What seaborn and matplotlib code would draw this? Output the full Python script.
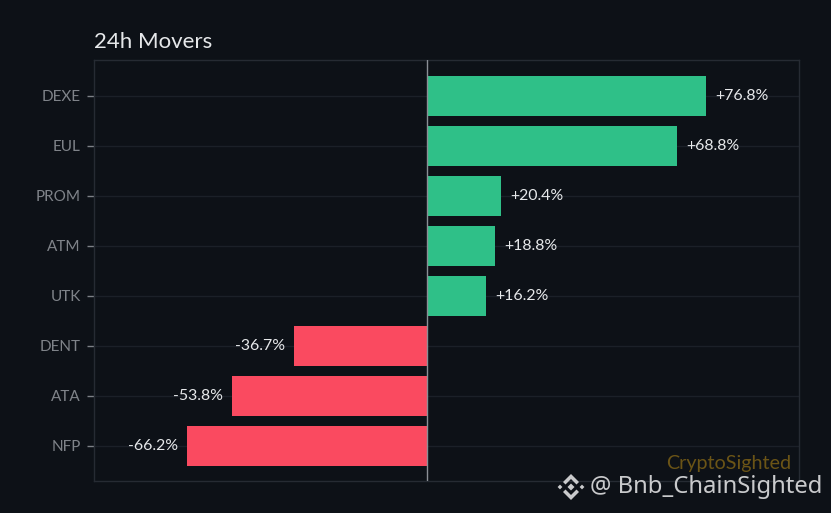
import matplotlib
matplotlib.use("Agg")
import matplotlib.pyplot as plt
from matplotlib.patches import Polygon
import seaborn as sns
import pandas as pd

symbols = ["DEXE", "EUL", "PROM", "ATM", "UTK", "DENT", "ATA", "NFP"]
changes = [76.8, 68.8, 20.4, 18.8, 16.2, -36.7, -53.8, -66.2]
title_text = "24h Movers"
brand_text = "CryptoSighted"
watermark_text = "@ Bnb_ChainSighted"

BG = "#0d1117"
GREEN = "#2fc088"
RED = "#fa4a60"
W, H = 831, 513

sns.set_theme(style="dark")
plt.rcParams["font.family"] = ["Lato", "DejaVu Sans"]

df = pd.DataFrame({"symbol": symbols, "change": changes})
df["dir"] = ["up" if v >= 0 else "down" for v in changes]

fig = plt.figure(figsize=(W / 100, H / 100), dpi=100, facecolor=BG)
ax = fig.add_axes([94 / W, 1 - 481 / H, (799 - 94) / W, (481 - 60) / H], facecolor=BG)

sns.barplot(data=df, x="change", y="symbol", hue="dir", dodge=False, width=0.8,
            palette={"up": GREEN, "down": RED}, legend=False, ax=ax, saturation=1,
            linewidth=0, edgecolor="none")

ax.set_xlim(-91.85, 102.45)
ax.set_ylim(7.71, -0.71)
ax.set_xlabel("")
ax.set_ylabel("")
ax.set_xticks([])
ax.grid(axis="y", color="#1b2028", lw=1)
ax.set_axisbelow(True)
for s in ax.spines.values():
    s.set_color("#262b33")
    s.set_linewidth(1)
ax.axvline(0, color="#8b8f96", lw=1.0, zorder=5)
ax.tick_params(axis="y", length=5, width=1, color="#7d8187", labelcolor="#7f8389",
               labelsize=11, pad=4.5, left=True)

for i, v in enumerate(changes):
    lbl = f"{v:+.1f}%"
    if v >= 0:
        ax.annotate(lbl, (v, i), xytext=(9, 0), textcoords="offset pixels",
                    va="center", ha="left", color="#e6e8ea", fontsize=11.4)
    else:
        ax.annotate(lbl, (v, i), xytext=(-9, 0), textcoords="offset pixels",
                    va="center", ha="right", color="#e6e8ea", fontsize=11.4)

fig.text(94 / W, 1 - 42.5 / H, title_text, color="#e6e8ea", fontsize=16, va="center", ha="left")
fig.text(791 / W, 1 - 463 / H, brand_text, color="#6b5416", fontsize=14.2, va="center", ha="right")
fig.text(589.5 / W, 1 - 487 / H, watermark_text, color="#c9cacc", fontsize=17.2, va="center", ha="left",
         family=["Noto Sans", "DejaVu Sans"])

# exchange-style mark beside the watermark
def poly(points, color="#c9cacc"):
    fig.add_artist(Polygon([(x / W, 1 - y / H) for x, y in points], closed=True,
                           transform=fig.transFigure, fc=color, ec="none"))

def diamond(cx, cy, r):
    poly([(cx - r, cy), (cx, cy - r), (cx + r, cy), (cx, cy + r)])

cx, cy = 571, 487
for sign in (-1, 1):
    poly([(cx - 8, cy + sign * 5), (cx, cy + sign * 13), (cx + 8, cy + sign * 5),
          (cx + 5.5, cy + sign * 2.5), (cx, cy + sign * 8), (cx - 5.5, cy + sign * 2.5)])
diamond(cx, cy, 3.5)
for dx in (-11, 11):
    diamond(cx + dx, cy, 2.4)

fig.savefig("out.png", dpi=100, facecolor=BG)
